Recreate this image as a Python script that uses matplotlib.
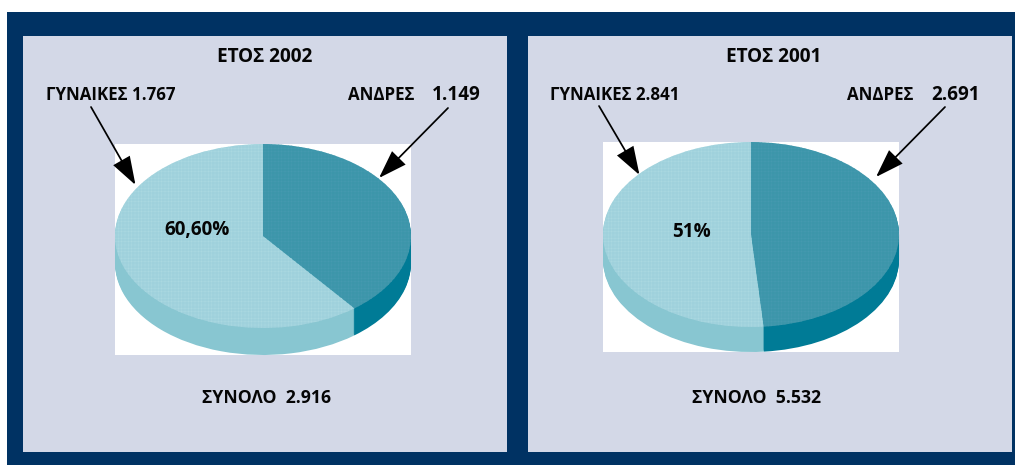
import matplotlib
matplotlib.use("Agg")
import matplotlib.pyplot as plt
from matplotlib.patches import Rectangle, FancyArrowPatch

W, H = 1015, 465
plt.rcParams['font.family'] = ['Open Sans', 'DejaVu Sans']
plt.rcParams['hatch.linewidth'] = 0.35

years = ["ΕΤΟΣ 2002", "ΕΤΟΣ 2001"]
women = [1767, 2841]
men = [1149, 2691]
women_labels = ["ΓΥΝΑΙΚΕΣ 1.767", "ΓΥΝΑΙΚΕΣ 2.841"]
men_labels = ["ΑΝΔΡΕΣ", "ΑΝΔΡΕΣ"]
men_numbers = ["1.149", "2.691"]
pct_labels = ["60,60%", "51%"]
total_labels = ["ΣΥΝΟΛΟ  2.916", "ΣΥΝΟΛΟ  5.532"]

NAVY, PANEL = "#003263", "#D3D8E7"
DARK_TOP, LIGHT_TOP = "#3C96AA", "#9FD1DC"
DARK_WALL, LIGHT_WALL = "#007B96", "#88C6D1"

fig = plt.figure(figsize=(W / 100, H / 100), dpi=100, facecolor="white")
bg = fig.add_axes([0, 0, 1, 1], zorder=0)
bg.set_xlim(0, W); bg.set_ylim(H, 0); bg.axis("off")
bg.add_patch(Rectangle((7, 12), W - 7, H - 12, fc=NAVY, lw=0))
panels = [(23, 36, 484, 416), (528, 36, 484, 416)]
for x, y, w, h in panels:
    bg.add_patch(Rectangle((x, y), w, h, fc=PANEL, lw=0))

# (rect left, top, width, height, ellipse centre y, y radius, depth) in pixels
boxes = [(115, 144, 296, 211, 236.0, 92.0, 27), (603, 142, 296, 210, 234.5, 92.5, 25)]

for i, (l, t, w, h, cy, ry, depth) in enumerate(boxes):
    ax = fig.add_axes([l / W, 1 - (t + h) / H, w / W, h / H], zorder=1)
    vals = [men[i], women[i]]
    for d in range(depth, -1, -1):
        cols = [DARK_TOP, LIGHT_TOP] if d == 0 else [DARK_WALL, LIGHT_WALL]
        wedges, _ = ax.pie(vals, colors=cols, startangle=90, counterclock=False,
                           radius=1, center=(0, -d / ry),
                           wedgeprops=dict(linewidth=0))
        if d == 0:
            wedges[0].set(hatch="+++++", edgecolor="#469AB0", linewidth=0)
            wedges[1].set(hatch="+++++", edgecolor="#ABD9E1", linewidth=0)
    ax.set_aspect("auto")
    ax.set_xlim(-1, 1)
    ax.set_ylim(1 - (t + h - (cy - ry)) / ry, 1)
    ax.set_axis_off()
    ax.add_artist(Rectangle((0, 0), 1, 1, transform=ax.transAxes, fc="white", lw=0, zorder=-5))

ov = fig.add_axes([0, 0, 1, 1], zorder=2)
ov.set_xlim(0, W); ov.set_ylim(H, 0); ov.axis("off")
ov.patch.set_alpha(0)


def put(x, y, s, size=12.4, ha="center"):
    ov.text(x, y, s, fontsize=size, fontweight="bold", ha=ha, va="center", color="#050505")


def arrow(p, q):
    ov.add_patch(FancyArrowPatch(p, q, arrowstyle="-|>,head_length=7.4,head_width=2.5",
                                 mutation_scale=2.4, lw=1.25, color="black",
                                 shrinkA=0, shrinkB=0, joinstyle="miter"))


title_x = [265, 773.5]
women_x = [110.5, 614.5]
men_x = [348, 847]
num_x = [432, 931]
pct_xy = [(197, 229.5), (692, 231.5)]
total_x = [267, 757]
for i in range(2):
    put(title_x[i], 56.5, years[i], size=13.7)
    put(women_x[i], 95, women_labels[i], size=12.2)
    put(men_x[i], 95, men_labels[i], ha="left", size=12.2)
    put(num_x[i], 94.5, men_numbers[i], ha="left", size=13.6)
    put(*pct_xy[i], pct_labels[i], size=13.6)
    put(total_x[i], 398, total_labels[i], size=12.7)

arrow((91, 107), (135.5, 185))
arrow((448, 108), (379, 178))
arrow((599, 106), (639.5, 175))
arrow((945, 107), (876, 177))

fig.savefig("out.png", dpi=100, facecolor="white")
